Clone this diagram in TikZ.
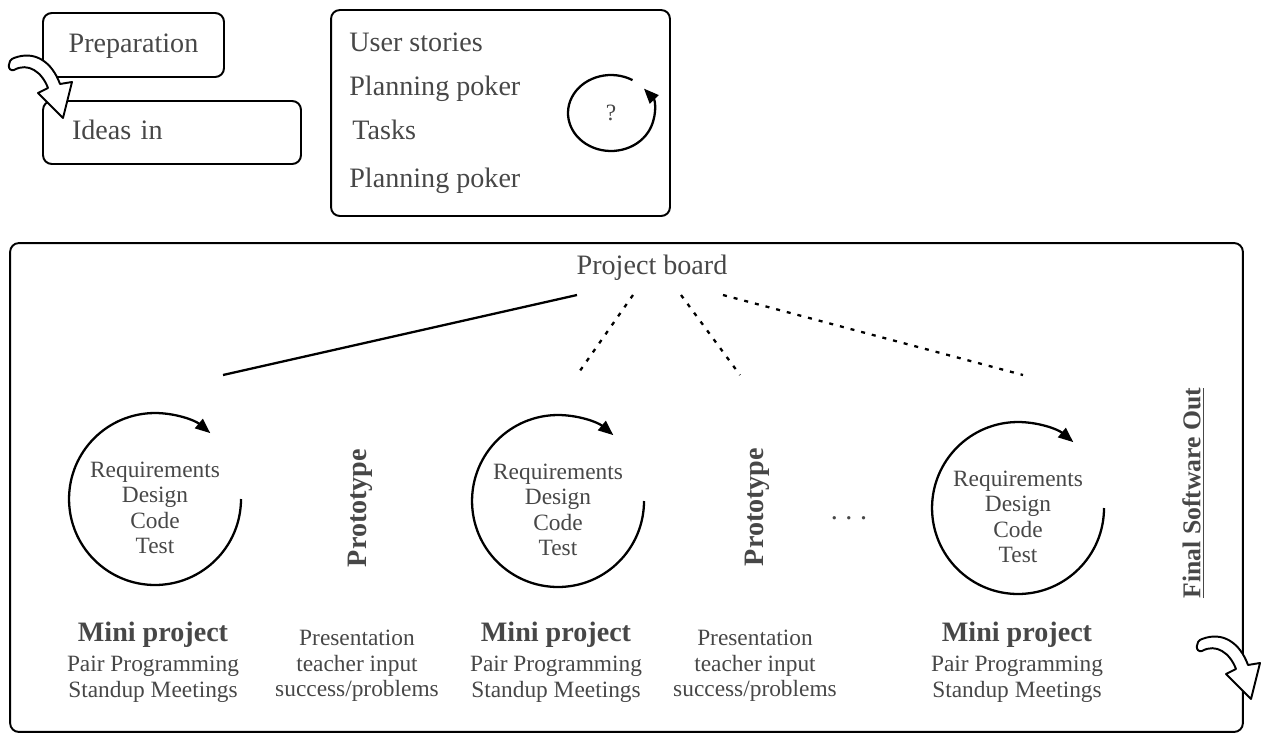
\documentclass[tikz,border=0pt]{standalone}
\usepackage{fontspec}
\setmainfont{Liberation Serif}
\usetikzlibrary{arrows.meta, positioning, calc}

\newcommand\bigtxt{\fontsize{16}{19}\selectfont}
\newcommand\smalltxt{\fontsize{13.3}{14.5}\selectfont}
\newcommand\finaltxt{\fontsize{14.6}{17}\selectfont}

\begin{document}
\begin{tikzpicture}[
  x=0.02cm, y=-0.02cm,
  every node/.style={text=black!72, font=\bigtxt},
  word/.style={text height=0.95em, text depth=0.11em, inner sep=0pt},
  box/.style={draw=black, line width=1.1pt, rounded corners=5pt, inner sep=0pt},
  steps/.style={font=\smalltxt, align=center, inner sep=0pt},
  vert/.style={word, rotate=90, font=\bigtxt\bfseries},
  cyclearrow/.style={line width=1.3pt, -{Triangle[length=0.3cm, width=0.24cm]}},
  link/.style={line width=1.3pt},
  dotlink/.style={line width=1.3pt, dash pattern=on 0.08cm off 0.14cm},
  bent arrow/.pic={
    \draw[line width=1.1pt, fill=white, line join=round]
      (4,-8) .. controls (25,-16) and (42,-4) .. (50,18) -- (62,16) -- (53,52)
      -- (28,27) -- (38,22) .. controls (32,6) and (18,-4) .. (4,4)
      .. controls (-3,6) and (-3,-6) .. cycle;
  },
]
  \useasboundingbox (0,0) rectangle (1267,734);

  % preparation
  \node[box, word, minimum width=3.62cm, minimum height=1.28cm] (prep) at (133.5,45) {Preparation};
  \node[box, word, minimum width=5.16cm, minimum height=1.26cm, inner xsep=0.58cm,
        text width=4cm, align=left] (ideas) at (172,132.5) {Ideas in};
  \pic at (10,66) {bent arrow};

  % planning
  \node[box, minimum width=6.78cm, minimum height=4.12cm] (backlog) at (500.5,113) {};
  \node[word, anchor=west] (stories) at (349,44) {User stories};
  \node[word, anchor=west] (poker1) at (349,88) {Planning poker};
  \node[word, anchor=west] (tasks) at (352,132) {Tasks};
  \node[word, anchor=west] (poker2) at (349,180) {Planning poker};
  \node[font=\smalltxt] (quest) at (611,113) {?};
  \draw[cyclearrow] ($(quest)+(60:0.86cm and 0.76cm)$)
    arc[start angle=60, end angle=400, x radius=0.86cm, y radius=0.76cm];

  % project board
  \node[box, minimum width=24.66cm, minimum height=9.78cm] (course) at (626.5,487.5) {};
  \node[word] (board) at (652,267) {Project board};
  \coordinate (b1) at (577,295);
  \coordinate (b2) at (633,295);
  \coordinate (b3) at (681,295);
  \coordinate (b4) at (723,295);
  \coordinate (e1) at (223,375);
  \coordinate (e2) at (577,375);
  \coordinate (e3) at (740,375);
  \coordinate (e4) at (1023,375);
  \draw[link] (b1) -- (e1);
  \draw[dotlink] (b2) -- (e2);
  \draw[dotlink] (b3) -- (e3);
  \draw[dotlink] (b4) -- (e4);

  % mini projects
  \foreach \x/\y/\c [count=\i] in {155/508/153, 558/510/556, 1018/517/1017} {
    \node[steps] (req\i) at (\x,\y) {Requirements\\Design\\Code\\Test};
    \draw[cyclearrow] ($(req\i)+(86,-9)$) arc[start angle=0, end angle=-310, radius=1.72cm];
    \node[steps] (mini\i) at (\c,662)
      {{\bigtxt\bfseries Mini project}\\[3pt]Pair Programming\\Standup Meetings};
  }

  % prototypes
  \node[vert] (proto1) at (359,508) {Prototype};
  \node[vert] (proto2) at (756,507) {Prototype};
  \node[steps] (pres1) at (357,666) {Presentation\\teacher input\\success/problems};
  \node[steps] (pres2) at (755,666) {Presentation\\teacher input\\success/problems};
  \node[word] (more) at (849,512) {.\hspace{0.27em}.\hspace{0.27em}.};

  % release
  \node[vert, font=\finaltxt\bfseries] (final) at (1193,493) {\underline{Final Software Out}};
  \pic at (1198,647) {bent arrow};
\end{tikzpicture}
\end{document}
